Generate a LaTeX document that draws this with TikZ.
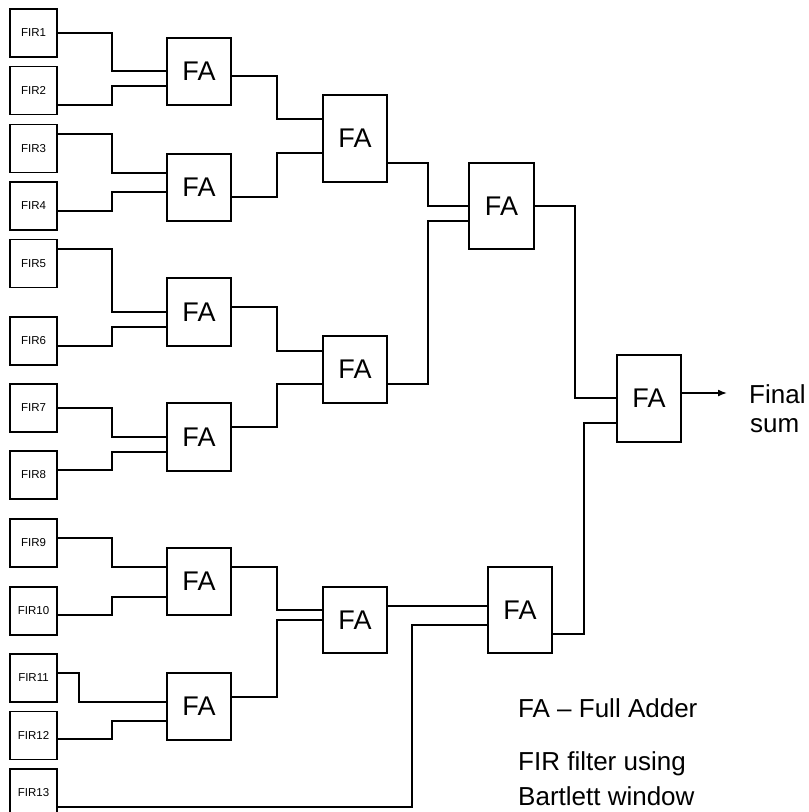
\documentclass[tikz,border=0pt]{standalone}
\usepackage{fontspec}
\setmainfont{Liberation Sans}
\usetikzlibrary{arrows.meta}
\begin{document}
\begin{tikzpicture}[x=1pt,y=-1pt,
  firbox/.style={draw,line width=1.6pt,minimum width=47pt,minimum height=48pt,inner sep=0pt,font=\fontsize{11.5}{13}\selectfont},
  fabox/.style={draw,line width=1.6pt,minimum width=64pt,inner sep=0pt,font=\fontsize{27}{30}\selectfont},
  wire/.style={line width=1.5pt},
  legend/.style={anchor=base west,inner sep=0pt,font=\fontsize{26}{30}\selectfont}]
\useasboundingbox (0,0) rectangle (809,812);
\clip (0,0) rectangle (809,812);
% FIR boxes
\node[firbox] (f1) at (33.5,33) {FIR1};
\node[firbox] (f2) at (33.5,90.5) {FIR2};
\node[firbox] (f3) at (33.5,148.5) {FIR3};
\node[firbox] (f4) at (33.5,206) {FIR4};
\node[firbox] (f5) at (33.5,263.5) {FIR5};
\node[firbox] (f6) at (33.5,341) {FIR6};
\node[firbox] (f7) at (33.5,408) {FIR7};
\node[firbox] (f8) at (33.5,475) {FIR8};
\node[firbox] (f9) at (33.5,543) {FIR9};
\node[firbox] (f10) at (33.5,611) {FIR10};
\node[firbox] (f11) at (33.5,678) {FIR11};
\node[firbox] (f12) at (33.5,735.5) {FIR12};
\node[firbox] (f13) at (33.5,793) {FIR13};
% FA boxes
\node[fabox,minimum height=67pt] (a1) at (199,71.5) {FA};
\node[fabox,minimum height=67pt] (a2) at (199,187.5) {FA};
\node[fabox,minimum height=68pt] (a3) at (199,312) {FA};
\node[fabox,minimum height=68pt] (a4) at (199,437) {FA};
\node[fabox,minimum height=67pt] (a5) at (199,581.5) {FA};
\node[fabox,minimum height=67pt] (a6) at (199,706.5) {FA};
\node[fabox,minimum height=87pt] (b1) at (355,138.5) {FA};
\node[fabox,minimum height=67pt] (b2) at (355,369.5) {FA};
\node[fabox,minimum height=66pt] (b3) at (355,620) {FA};
\node[fabox,minimum height=86pt,minimum width=65pt] (c1) at (501.5,206) {FA};
\node[fabox,minimum height=86pt] (c2) at (520,610) {FA};
\node[fabox,minimum height=87pt] (d1) at (649,398.5) {FA};
% FIR -> level 1
\draw[wire] (f1.east) -- (112,33) |- (a1.west |- 0,71);
\draw[wire] (f2.east |- 0,105) -- (112,105) |- (a1.west |- 0,86);
\draw[wire] (f3.east |- 0,134) -- (112,134) |- (a2.west |- 0,173);
\draw[wire] (f4.east |- 0,211) -- (112,211) |- (a2.west |- 0,192);
\draw[wire] (f5.east |- 0,249) -- (112,249) |- (a3.west |- 0,312);
\draw[wire] (f6.east |- 0,346) -- (112,346) |- (a3.west |- 0,327);
\draw[wire] (f7.east) -- (112,408) |- (a4.west |- 0,437);
\draw[wire] (f8.east |- 0,470) -- (112,470) |- (a4.west |- 0,452);
\draw[wire] (f9.east |- 0,538) -- (112,538) |- (a5.west |- 0,567);
\draw[wire] (f10.east |- 0,615) -- (112,615) |- (a5.west |- 0,597);
\draw[wire] (f11.east |- 0,673) -- (79,673) |- (a6.west |- 0,702);
\draw[wire] (f12.east |- 0,739) -- (112,739) |- (a6.west |- 0,721);
\draw[wire] (f13.east |- 0,807) -- (412,807) |- (c2.west |- 0,625);
% level 1 -> level 2
\draw[wire] (a1.east |- 0,76) -- (277,76) |- (b1.west |- 0,119);
\draw[wire] (a2.east |- 0,197) -- (277,197) |- (b1.west |- 0,153);
\draw[wire] (a3.east |- 0,307) -- (277,307) |- (b2.west |- 0,351);
\draw[wire] (a4.east |- 0,427) -- (277,427) |- (b2.west |- 0,384);
\draw[wire] (a5.east |- 0,567) -- (277,567) |- (b3.west |- 0,610);
\draw[wire] (a6.east |- 0,697) -- (277,697) |- (b3.west |- 0,620);
% level 2 -> level 3
\draw[wire] (b1.east |- 0,163) -- (428,163) |- (c1.west |- 0,206);
\draw[wire] (b2.east |- 0,384) -- (428,384) |- (c1.west |- 0,221);
\draw[wire,line width=2.4pt] (b3.east |- 0,606) -- (c2.west |- 0,606);
% level 3 -> final
\draw[wire] (c1.east |- 0,206) -- (575,206) |- (d1.west |- 0,398);
\draw[wire] (c2.east |- 0,634) -- (584,634) |- (d1.west |- 0,423);
\coordinate (out) at (727,393);
\draw[wire,-{Latex[length=9pt,width=7pt]}] (d1.east |- 0,393) -- (out);
% texts
\node[legend] (fin) at (749,403) {Final};
\node[legend] (sum) at (750,432) {sum};
\node[legend] (l1) at (518,717) {FA – Full Adder};
\node[legend] (l2) at (518,770) {FIR filter using};
\node[legend] (l3) at (518,805) {Bartlett window};
\end{tikzpicture}
\end{document}
